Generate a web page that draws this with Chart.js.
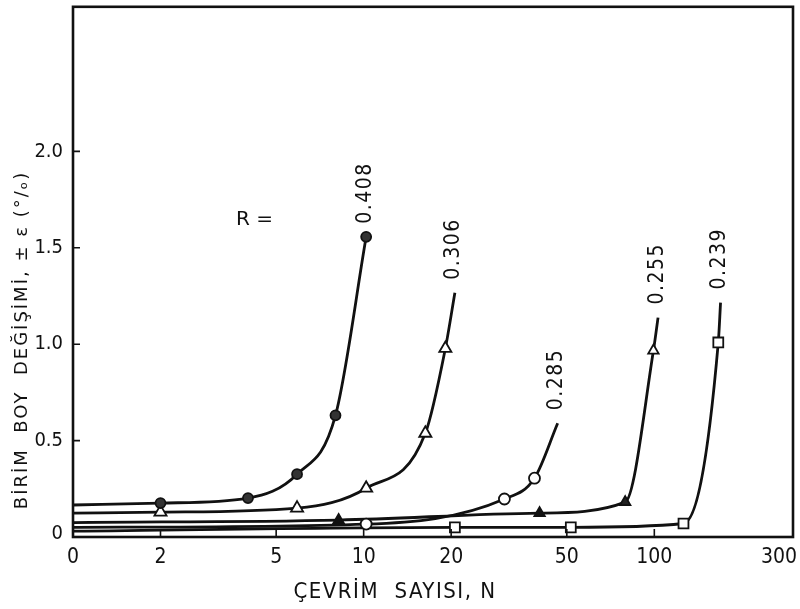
<!DOCTYPE html>
<html>
<head>
<meta charset="utf-8">
<script src="https://cdn.jsdelivr.net/npm/chart.js@4.4.1/dist/chart.umd.min.js"></script>
<style>
  html, body { margin: 0; padding: 0; background: #fff; }
  #wrap { width: 800px; height: 609px; }
</style>
</head>
<body>
<div id="wrap"><canvas id="strainChart" width="800" height="609"></canvas></div>
<script>
// cycle axis (log), first tick printed as 0
const xTickValues = [1, 2, 5, 10, 20, 50, 100, 300];
const xTickLabels = ['0', '2', '5', '10', '20', '50', '100', '300'];
const yTickValues = [0, 0.5, 1.0, 1.5, 2.0];
const yTickLabels = ['0', '0.5', '1.0', '1.5', '2.0'];

const seriesNames = ['0.408', '0.306', '0.285', '0.255', '0.239'];

// number of cycles N and strain (%) for each R; mark = 0 for plain curve points
const cyclesR408 = [1, 2, 4, 5.9, 8, 10.2];
const strainR408 = [0.166, 0.176, 0.202, 0.326, 0.631, 1.557];
const markR408   = [0, 1, 1, 1, 1, 1];

const cyclesR306 = [1, 2, 5.9, 10.2, 16.3, 19.1, 20.6];
const strainR306 = [0.124, 0.129, 0.150, 0.253, 0.538, 0.978, 1.267];
const markR306   = [0, 1, 1, 1, 1, 1, 0];

const cyclesR285 = [1, 10.2, 30.5, 38.7, 46.5];
const strainR285 = [0.05, 0.067, 0.197, 0.305, 0.590];
const markR285   = [0, 1, 1, 1, 0];

const cyclesR255 = [1, 8.2, 40.3, 79.4, 99.3, 103];
const strainR255 = [0.075, 0.088, 0.124, 0.181, 0.967, 1.138];
const markR255   = [0, 1, 1, 1, 1, 0];

const cyclesR239 = [1, 20.6, 51.6, 126, 166, 169];
const strainR239 = [0.03, 0.05, 0.05, 0.07, 1.009, 1.216];
const markR239   = [0, 1, 1, 1, 1, 0];

const condensed = "'DejaVu Sans Condensed', 'Liberation Sans Narrow', sans-serif";
const INK = '#111';

function toPoints(xs, ys) {
    return xs.map((x, i) => ({ x: x, y: ys[i] }));
}

function makeSet(name, xs, ys, marks, style, radius, fill) {
    return {
        label: name,
        data: toPoints(xs, ys),
        borderColor: INK,
        borderWidth: 2.8,
        cubicInterpolationMode: 'monotone',
        pointStyle: style,
        pointRadius: marks.map(m => m ? radius : 0),
        pointBorderColor: INK,
        pointBorderWidth: 1.8,
        pointBackgroundColor: Array.isArray(fill) ? fill : marks.map(() => fill),
        fill: false
    };
}

const datasets = [
    makeSet(seriesNames[0], cyclesR408, strainR408, markR408, 'circle', 5, '#333'),
    makeSet(seriesNames[1], cyclesR306, strainR306, markR306, 'triangle', 7, '#fff'),
    makeSet(seriesNames[2], cyclesR285, strainR285, markR285, 'circle', 5.5, '#fff'),
    makeSet(seriesNames[3], cyclesR255, strainR255, markR255, 'triangle', 6, ['#111', '#111', '#111', '#222', '#fff', '#fff']),
    makeSet(seriesNames[4], cyclesR239, strainR239, markR239, 'rect', 7, '#fff')
];

// frame, inward ticks, tick labels and all free text
const decorations = {
    id: 'decorations',
    afterDraw(chart) {
        const ctx = chart.ctx;
        const a = chart.chartArea;
        const xs = chart.scales.x;
        const ys = chart.scales.y;
        ctx.save();
        ctx.strokeStyle = INK;
        ctx.fillStyle = INK;

        ctx.lineWidth = 2.6;
        ctx.strokeRect(a.left, a.top, a.right - a.left, a.bottom - a.top);

        ctx.lineWidth = 1.6;
        ctx.beginPath();
        yTickValues.slice(1).forEach(v => {
            const y = ys.getPixelForValue(v);
            ctx.moveTo(a.left, y);
            ctx.lineTo(a.left + 7, y);
        });
        xTickValues.slice(1, -1).forEach(v => {
            const x = xs.getPixelForValue(v);
            ctx.moveTo(x, a.bottom);
            ctx.lineTo(x, a.bottom - 8);
        });
        ctx.stroke();

        // strain tick labels
        ctx.font = '20px ' + condensed;
        ctx.textAlign = 'right';
        ctx.textBaseline = 'middle';
        yTickValues.forEach((v, i) => {
            ctx.fillText(yTickLabels[i], a.left - 10, ys.getPixelForValue(v) - (i === 0 ? 3 : 0));
        });

        // cycle tick labels, the last one kept inside the canvas
        ctx.font = '21px ' + condensed;
        ctx.textBaseline = 'alphabetic';
        xTickValues.forEach((v, i) => {
            const x = xs.getPixelForValue(v);
            const last = i === xTickValues.length - 1;
            ctx.textAlign = last ? 'right' : 'center';
            ctx.fillText(xTickLabels[i], last ? x + 4 : x, a.bottom + 26);
        });

        // axis titles
        ctx.font = '22px ' + condensed;
        ctx.letterSpacing = '1.5px';
        ctx.textAlign = 'center';
        ctx.textBaseline = 'middle';
        ctx.fillText('ÇEVRİM  SAYISI, N', 395, 592);

        ctx.save();
        ctx.font = "18px 'DejaVu Sans', sans-serif";
        ctx.letterSpacing = '2px';
        ctx.translate(22, 340);
        ctx.rotate(-Math.PI / 2);
        ctx.fillText('BİRİM  BOY  DEĞİŞİMİ, ± ε (°/ₒ)', 0, 0);
        ctx.restore();

        // R values written above the end of each curve
        ctx.font = '21px ' + condensed;
        ctx.letterSpacing = '1.5px';
        ctx.textAlign = 'left';
        chart.data.datasets.forEach((ds, i) => {
            const pts = chart.getDatasetMeta(i).data;
            const end = pts[pts.length - 1];
            ctx.save();
            ctx.translate(end.x - 1, end.y - 13);
            ctx.rotate(-Math.PI / 2);
            ctx.fillText(ds.label, 0, 0);
            ctx.restore();
        });

        ctx.letterSpacing = '0px';
        ctx.font = "20px 'DejaVu Sans', sans-serif";
        ctx.textAlign = 'left';
        ctx.fillText('R =', 236, 220);
        ctx.restore();
    }
};

new Chart(document.getElementById('strainChart'), {
    type: 'line',
    data: { datasets: datasets },
    options: {
        responsive: false,
        animation: false,
        devicePixelRatio: 1,
        layout: { padding: { top: 5, right: 7, left: 0, bottom: 0 } },
        plugins: {
            legend: { display: false },
            tooltip: { enabled: false },
            title: { display: false }
        },
        scales: {
            x: {
                type: 'logarithmic',
                min: 1,
                max: 300,
                afterBuildTicks: s => { s.ticks = xTickValues.map(v => ({ value: v })); },
                afterFit: s => { s.height = 72; },
                ticks: { display: false },
                grid: { display: false },
                border: { display: false }
            },
            y: {
                type: 'linear',
                min: 0,
                max: 2.75,
                afterBuildTicks: s => { s.ticks = yTickValues.map(v => ({ value: v })); },
                afterFit: s => { s.width = 73; },
                ticks: { display: false },
                grid: { display: false },
                border: { display: false }
            }
        }
    },
    plugins: [decorations]
});
</script>
</body>
</html>
